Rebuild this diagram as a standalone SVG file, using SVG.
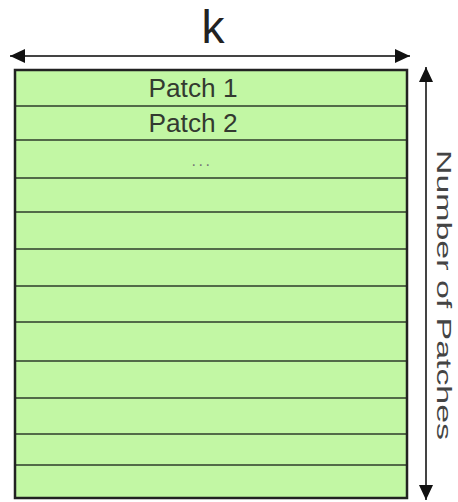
<svg xmlns="http://www.w3.org/2000/svg" width="458" height="502" viewBox="0 0 458 502">
<style>
.row{stroke:#526a48;stroke-width:2.2}
.lbl{font-family:"Liberation Sans",Arial,sans-serif;fill:#333a30;text-anchor:middle}
.dim{stroke:#444;stroke-width:2;fill:none}
</style>
<defs>
<marker id="ah" markerUnits="userSpaceOnUse" markerWidth="16" markerHeight="14" refX="15" refY="7" orient="auto-start-reverse">
<path d="M0,0 L15,7 L0,14 Z" fill="#111"/>
</marker>
</defs>
<rect width="458" height="502" fill="#fff"/>
<g id="matrix">
<rect x="15" y="70" width="392" height="428" fill="#c2f7a4"/>
<line class="row" x1="15" y1="106" x2="407" y2="106"/>
<line class="row" x1="15" y1="140" x2="407" y2="140"/>
<line class="row" x1="15" y1="178" x2="407" y2="178"/>
<line class="row" x1="15" y1="212" x2="407" y2="212"/>
<line class="row" x1="15" y1="249" x2="407" y2="249"/>
<line class="row" x1="15" y1="286" x2="407" y2="286"/>
<line class="row" x1="15" y1="322" x2="407" y2="322"/>
<line class="row" x1="15" y1="361" x2="407" y2="361"/>
<line class="row" x1="15" y1="398" x2="407" y2="398"/>
<line class="row" x1="15" y1="434" x2="407" y2="434"/>
<line class="row" x1="15" y1="465" x2="407" y2="465"/>
<rect x="15" y="70" width="392" height="428" fill="none" stroke="#222" stroke-width="2.5"/>
</g>
<g id="patch1"><text class="lbl" x="193" y="97" font-size="25" textLength="89" lengthAdjust="spacingAndGlyphs">Patch 1</text></g>
<g id="patch2"><text class="lbl" x="193" y="132" font-size="25" textLength="89" lengthAdjust="spacingAndGlyphs">Patch 2</text></g>
<g id="ellipsis"><text class="lbl" x="202" y="166" font-size="16" letter-spacing="2.5" style="fill:#777">...</text></g>
<g id="connectors">
<line class="dim" x1="10" y1="56" x2="410" y2="56" marker-start="url(#ah)" marker-end="url(#ah)"/>
<line class="dim" x1="426" y1="67" x2="426" y2="500" stroke="#555" marker-start="url(#ah)" marker-end="url(#ah)"/>
</g>
<g id="label-k"><text x="213" y="43" font-family="Liberation Sans, Arial, sans-serif" font-size="46" fill="#222" text-anchor="middle">k</text></g>
<g id="label-n"><text x="437" y="150" font-family="Liberation Sans, Arial, sans-serif" font-size="21" fill="#444" textLength="290" lengthAdjust="spacingAndGlyphs" transform="rotate(90 437 150)">Number of Patches</text></g>
</svg>
